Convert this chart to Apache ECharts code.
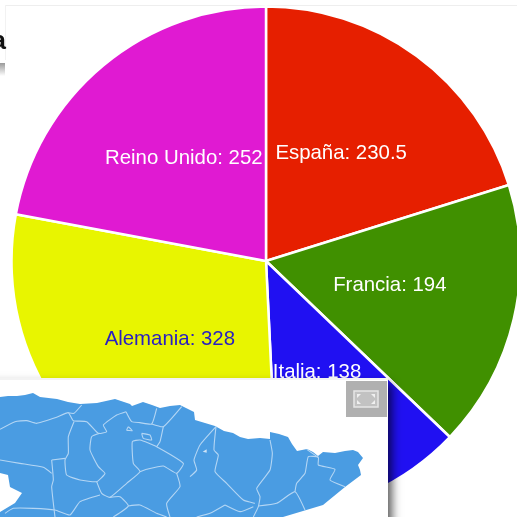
<!DOCTYPE html>
<html>
<head>
<meta charset="utf-8">
<title>Pie</title>
<script src="https://cdn.jsdelivr.net/npm/echarts@6/dist/echarts.min.js"></script>
<style>
html, body { margin: 0; padding: 0; background: #fff; }
#chart { width: 517px; height: 517px; }
</style>
</head>
<body>
<div id="chart"></div>
<script>
// valores del grafico
var paises = ['España', 'Francia', 'Italia', 'Alemania', 'Reino Unido'];
var valores = [230.5, 194, 138, 328, 252];
var colores = ['#e61f00', '#409000', '#2010f2', '#e8f500', '#e01ad2'];
var coloresTexto = ['#ffffff', '#ffffff', '#ffffff', '#2a20c0', '#ffffff'];
// ajuste fino de las etiquetas respecto a su sitio en el sector
var ajusteEtiquetas = [[-2, -3], [-3, -5], [-3, -7], [2, -7], [1, -2]];

// contorno del mapa del recuadro (trazado a mano, pixeles de pantalla)
var costa = [[0,397],[8,396],[17,396],[25,395],[33,393],[40,397],[57,399],[68,402],[80,404],[97,403],[106,401],[115,399],[124,402],[130,404],[132,406],[143,402],[152,405],[160,408],[170,406],[180,405],[186,408],[190,410],[194,412],[195,420],[205,423],[215,426],[224,431],[233,433],[240,437],[248,439],[260,438],[270,439],[270,432],[279,434],[288,437],[292,444],[297,451],[307,449],[313,452],[318,456],[323,452],[335,453],[345,451],[353,450],[358,452],[363,458],[358,465],[360,470],[361,475],[353,481],[345,487],[334,496],[323,505],[303,511],[283,517],[0,517],[0,512],[15,503],[22,493],[10,487],[8,475],[0,473]];

function izq(p) { return p.map(function (q) { return [q[0] / 3, q[1] / 3 + 380]; }); }
function der(p) { return p.map(function (q) { return [q[0] / 3 + 190, q[1] / 3 + 380]; }); }

var limites = [
  izq([[0,148],[45,125],[80,122],[110,130],[170,112],[205,98],[220,122],[260,125],[295,160],[320,155],[310,135],[350,105],[378,95]]),
  izq([[245,75],[222,100],[205,98]]),
  izq([[222,125],[205,170],[205,220],[195,240],[200,285],[240,300],[290,305],[315,280],[295,260],[270,210],[275,170],[300,160]]),
  izq([[155,240],[195,235]]),
  izq([[155,240],[160,300],[155,320],[165,411]]),
  izq([[0,240],[60,250],[130,262],[155,280]]),
  izq([[290,305],[305,340],[330,352],[380,310],[420,275],[400,250],[397,185],[420,180],[470,200],[550,250],[530,280],[490,258],[440,268],[420,275]]),
  izq([[530,280],[540,320],[500,370],[510,411]]),
  izq([[330,352],[360,350],[385,378],[340,411]]),
  izq([[385,378],[420,375],[470,400],[500,411]]),
  izq([[300,345],[240,365],[210,405],[165,390],[100,385],[40,385],[15,400]]),
  izq([[378,95],[395,125],[420,128],[455,132],[470,85]]),
  izq([[455,132],[490,140],[545,80]]),
  izq([[490,140],[480,185],[470,200]]),
  izq([[385,140],[397,152],[380,150],[385,140]]),
  izq([[425,160],[450,165],[455,180],[430,175],[425,160]]),
  der([[78,140],[30,195],[12,240],[20,270],[0,290]]),
  der([[78,140],[72,210],[85,225],[75,275],[110,310],[160,360],[195,370]]),
  der([[240,180],[247,220],[240,270],[200,325],[210,350],[205,380],[190,411]]),
  der([[205,378],[260,370],[315,335],[345,390]]),
  der([[315,335],[320,310],[345,280],[355,230],[385,232],[385,255],[435,268],[420,300],[465,320]]),
  der([[350,208],[385,232]]),
  der([[105,375],[60,400],[20,411]]),
  der([[105,375],[150,395],[190,380]])
];

var graficos = [
  // restos de la pagina arriba a la izquierda
  { type: 'rect', z: 1, shape: { x: 5, y: 5, width: 512, height: 1 }, style: { fill: '#eeeeee' } },
  { type: 'rect', z: 1, shape: { x: 5, y: 5, width: 1, height: 55 }, style: { fill: '#f2f2f2' } },
  { type: 'text', z: 1, style: { text: 'a', x: 6, y: 55, align: 'right', verticalAlign: 'bottom', fill: '#111111', fontFamily: 'Liberation Sans', fontWeight: 'bold', fontSize: 26 } },
  { type: 'rect', z: 1, shape: { x: 0, y: 63, width: 5, height: 13 }, style: {
    fill: { type: 'linear', x: 0, y: 0, x2: 0, y2: 1, colorStops: [{ offset: 0, color: '#9a9a9a' }, { offset: 1, color: '#ffffff' }] }
  } },
  // recuadro del mapa
  { type: 'rect', z: 50, shape: { x: -20, y: 378, width: 408, height: 170 }, style: {
    fill: '#ffffff', shadowBlur: 9, shadowColor: 'rgba(0,0,0,0.65)', shadowOffsetX: 4, shadowOffsetY: 6
  } },
  { type: 'rect', z: 51, shape: { x: 0, y: 378, width: 388, height: 2 }, style: { fill: '#f3f3f3' } },
  { type: 'polygon', z: 52, shape: { points: costa }, style: { fill: '#4a9ce2' } },
  // boton de pantalla completa
  { type: 'rect', z: 54, shape: { x: 346, y: 381, width: 41, height: 36 }, style: { fill: '#b0b0b0' } },
  { type: 'rect', z: 55, shape: { x: 354, y: 391, width: 24, height: 16 }, style: { fill: '#c2c2c2', stroke: '#e6e6e6', lineWidth: 1.5 } },
  { type: 'polygon', z: 56, shape: { points: [[357,394],[361,394],[357,398]] }, style: { fill: '#f0f0f0' } },
  { type: 'polygon', z: 56, shape: { points: [[375,394],[371,394],[375,398]] }, style: { fill: '#f0f0f0' } },
  { type: 'polygon', z: 56, shape: { points: [[357,404],[361,404],[357,400]] }, style: { fill: '#f0f0f0' } },
  { type: 'polygon', z: 56, shape: { points: [[375,404],[371,404],[375,400]] }, style: { fill: '#f0f0f0' } },
  { type: 'polygon', z: 53, shape: { points: der([[38,215],[50,208],[50,218]]) }, style: { fill: '#cfe4f7' } }
];
limites.forEach(function (l) {
  graficos.push({ type: 'polyline', z: 53, shape: { points: l, smooth: 0.15 }, style: { stroke: '#b4d6f4', lineWidth: 1.1, fill: null } });
});

var datos = paises.map(function (p, i) {
  return {
    name: p,
    value: valores[i],
    itemStyle: { color: colores[i] },
    label: { color: coloresTexto[i] }
  };
});

var chart = echarts.init(document.getElementById('chart'), null, { renderer: 'canvas' });
chart.setOption({
  animation: false,
  tooltip: { show: false },
  legend: { show: false },
  series: [{
    type: 'pie',
    z: 2,
    center: [266, 261],
    radius: [0, 254.5],
    startAngle: 90,
    clockwise: true,
    silent: true,
    data: datos,
    itemStyle: { borderColor: '#ffffff', borderWidth: 2.5 },
    labelLine: { show: false },
    labelLayout: function (p) {
      return { dx: ajusteEtiquetas[p.dataIndex][0], dy: ajusteEtiquetas[p.dataIndex][1] };
    },
    label: {
      show: true,
      position: 'inside',
      formatter: '{b}: {c}',
      fontFamily: '"Liberation Sans", Arial, sans-serif',
      fontSize: 20.4
    }
  }],
  graphic: graficos
});
</script>
</body>
</html>
